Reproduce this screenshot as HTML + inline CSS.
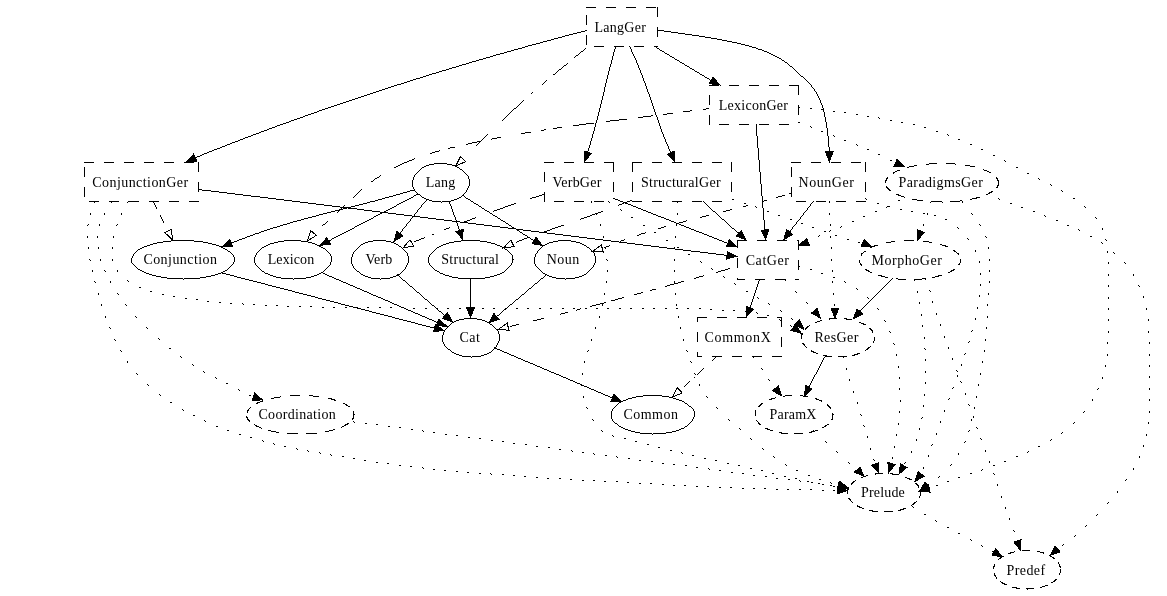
<!DOCTYPE html>
<html lang="en"><head><meta charset="utf-8"><title>LangGer module dependency graph</title>
<style>html,body{margin:0;padding:0;background:#fff}svg{display:block}</style></head>
<body>
<svg width="1167" height="596" viewBox="0 0 1167 596">
<rect width="1167" height="596" fill="#fff"/>
<g transform="translate(0,0.5)" fill="none" stroke="#000" stroke-width="1" shape-rendering="crispEdges">
<path d="M585 30h2M657 30h7M581 31h4M664 31h7M577 32h4M671 32h7M573 33h4M678 33h7M569 34h4M685 34h7M565 35h4M692 35h7M562 36h3M699 36h6M558 37h4M705 37h6M554 38h4M711 38h6M551 39h3M717 39h5M547 40h4M722 40h5M543 41h4M727 41h5M540 42h3M732 42h5M536 43h4M737 43h4M532 44h4M741 44h4M528 45h4M745 45h4M525 46h3M629 46h1M655 46h1M749 46h3M522 47h3M615 47h1M630 47h1M656 47h1M752 47h4M518 48h4M585 48h1M615 48h1M630 48h1M657 48h2M756 48h2M514 49h4M584 49h1M614 49h1M631 49h1M659 49h1M758 49h4M511 50h3M583 50h1M614 50h1M631 50h1M660 50h2M762 50h2M507 51h4M581 51h2M614 51h1M631 51h1M662 51h2M764 51h3M504 52h3M580 52h1M613 52h1M632 52h1M664 52h1M767 52h2M500 53h4M579 53h1M613 53h1M632 53h1M665 53h2M769 53h2M496 54h4M578 54h1M613 54h1M633 54h1M667 54h2M771 54h2M493 55h3M576 55h2M613 55h1M633 55h1M669 55h1M773 55h2M490 56h3M575 56h1M612 56h1M634 56h1M670 56h2M775 56h2M486 57h4M574 57h1M612 57h1M634 57h1M672 57h2M777 57h2M483 58h3M612 58h1M635 58h1M674 58h1M779 58h2M479 59h4M612 59h1M635 59h1M675 59h2M781 59h1M476 60h3M611 60h1M636 60h1M677 60h2M782 60h2M472 61h4M611 61h1M636 61h1M679 61h1M784 61h1M469 62h3M611 62h1M636 62h1M680 62h2M785 62h2M466 63h3M567 63h1M611 63h1M637 63h1M682 63h2M787 63h1M462 64h4M566 64h1M610 64h1M637 64h1M684 64h1M788 64h1M459 65h3M564 65h2M610 65h1M638 65h1M685 65h2M789 65h1M456 66h3M563 66h1M610 66h1M638 66h1M687 66h2M790 66h2M452 67h4M562 67h1M609 67h1M638 67h1M689 67h1M792 67h1M449 68h3M561 68h1M609 68h1M639 68h1M690 68h2M793 68h1M446 69h3M559 69h2M609 69h1M639 69h1M692 69h2M794 69h1M442 70h4M558 70h1M609 70h1M640 70h1M694 70h1M795 70h1M439 71h3M557 71h1M608 71h1M640 71h1M695 71h2M796 71h1M436 72h3M556 72h1M608 72h1M640 72h1M697 72h2M797 72h1M432 73h4M555 73h1M608 73h1M641 73h1M699 73h1M798 73h1M429 74h3M553 74h2M608 74h1M641 74h1M700 74h2M799 74h1M426 75h3M607 75h1M642 75h1M702 75h2M800 75h1M423 76h3M607 76h1M642 76h1M704 76h1M801 76h2M420 77h3M607 77h1M642 77h1M705 77h2M803 77h1M416 78h4M607 78h1M643 78h1M707 78h2M804 78h1M413 79h3M606 79h1M643 79h1M709 79h1M805 79h1M410 80h3M546 80h1M606 80h1M643 80h1M710 80h1M806 80h1M407 81h3M545 81h1M606 81h1M644 81h1M807 81h1M404 82h3M544 82h1M606 82h1M644 82h1M808 82h1M401 83h3M543 83h1M605 83h1M645 83h1M809 83h1M397 84h4M542 84h1M605 84h1M645 84h1M810 84h1M394 85h3M605 85h1M645 85h1M811 85h1M391 86h3M605 86h1M646 86h1M811 86h1M388 87h3M604 87h1M646 87h1M812 87h1M385 88h3M604 88h1M646 88h1M813 88h1M382 89h3M604 89h1M647 89h1M814 89h1M379 90h3M604 90h1M647 90h1M814 90h1M376 91h3M604 91h1M647 91h1M815 91h1M373 92h3M532 92h1M603 92h1M648 92h1M816 92h1M370 93h3M531 93h1M603 93h1M648 93h1M816 93h1M367 94h3M603 94h1M649 94h1M817 94h1M364 95h3M603 95h1M649 95h1M817 95h1M361 96h3M602 96h1M649 96h1M818 96h1M358 97h3M602 97h1M650 97h1M818 97h1M355 98h3M602 98h1M650 98h1M819 98h1M352 99h3M602 99h1M650 99h1M819 99h1M349 100h3M523 100h1M601 100h1M651 100h1M820 100h1M346 101h3M522 101h1M601 101h1M651 101h1M820 101h1M343 102h3M521 102h1M601 102h1M651 102h1M820 102h1M340 103h3M520 103h1M601 103h1M652 103h1M821 103h1M337 104h3M519 104h1M600 104h1M652 104h1M821 104h1M334 105h3M518 105h1M600 105h1M652 105h1M822 105h1M331 106h3M517 106h1M600 106h1M653 106h1M822 106h1M328 107h3M516 107h1M600 107h1M653 107h1M798 107h2M822 107h1M325 108h3M514 108h2M599 108h1M653 108h1M706 108h3M810 108h2M823 108h1M322 109h3M513 109h1M599 109h1M654 109h1M703 109h3M821 109h3M319 110h3M512 110h1M599 110h1M654 110h1M690 110h2M823 110h1M317 111h2M511 111h1M599 111h1M654 111h1M683 111h7M823 111h1M833 111h2M314 112h3M510 112h1M598 112h1M655 112h1M824 112h1M844 112h2M311 113h3M509 113h1M598 113h1M655 113h1M667 113h6M824 113h1M308 114h3M508 114h1M598 114h1M655 114h1M663 114h4M824 114h1M856 114h2M305 115h3M507 115h1M598 115h1"/>
<path d="M651 115h2M656 115h1M824 115h1M303 116h2M506 116h1M597 116h1M643 116h8M656 116h1M824 116h1M867 116h2M300 117h3M505 117h1M597 117h1M638 117h5M657 117h1M825 117h1M878 117h1M297 118h3M504 118h1M597 118h1M657 118h1M825 118h1M879 118h1M294 119h3M503 119h1M597 119h1M619 119h8M657 119h1M825 119h1M291 120h3M502 120h1M596 120h1M610 120h9M658 120h1M825 120h1M890 120h2M289 121h2M596 121h1M606 121h4M658 121h1M825 121h1M286 122h3M596 122h1M658 122h1M798 122h2M826 122h1M901 122h2M283 123h3M586 123h8M595 123h1M659 123h1M826 123h1M280 124h3M579 124h7M595 124h1M659 124h1M756 124h1M826 124h1M913 124h2M277 125h3M573 125h6M595 125h1M659 125h1M756 125h1M826 125h1M275 126h2M595 126h1M660 126h1M756 126h1M810 126h1M826 126h1M272 127h3M557 127h5M594 127h1M660 127h1M756 127h1M811 127h1M826 127h1M924 127h2M269 128h3M553 128h4M594 128h1M660 128h1M756 128h1M827 128h1M267 129h2M544 129h2M594 129h1M661 129h1M756 129h1M827 129h1M264 130h3M541 130h3M594 130h1M661 130h1M756 130h1M827 130h1M261 131h3M593 131h1M661 131h1M756 131h1M821 131h2M827 131h1M936 131h2M259 132h2M525 132h6M593 132h1M662 132h1M756 132h1M827 132h1M256 133h3M521 133h4M593 133h1M662 133h1M756 133h1M827 133h1M253 134h3M487 134h1M592 134h1M663 134h1M756 134h1M827 134h1M947 134h1M251 135h2M486 135h1M592 135h1M663 135h1M756 135h1M827 135h1M833 135h1M948 135h1M248 136h3M485 136h1M592 136h1M663 136h1M757 136h1M828 136h1M834 136h1M245 137h3M484 137h1M497 137h4M592 137h1M664 137h1M757 137h1M828 137h1M243 138h2M483 138h1M492 138h5M591 138h1M664 138h1M757 138h1M828 138h1M240 139h3M482 139h1M491 139h1M591 139h1M665 139h1M757 139h1M828 139h1M958 139h2M238 140h2M481 140h1M591 140h1M665 140h1M757 140h1M828 140h1M844 140h2M235 141h3M477 141h4M590 141h1M665 141h1M757 141h1M828 141h1M232 142h3M472 142h5M479 142h1M590 142h1M666 142h1M757 142h1M828 142h1M230 143h2M468 143h4M478 143h1M590 143h1M666 143h1M757 143h1M828 143h1M227 144h3M466 144h2M477 144h1M590 144h1M667 144h1M757 144h1M828 144h1M856 144h1M970 144h2M225 145h2M476 145h1M589 145h1M667 145h1M757 145h1M828 145h1M857 145h1M222 146h3M589 146h1M668 146h1M757 146h1M828 146h1M220 147h2M450 147h5M589 147h1M668 147h1M757 147h1M829 147h1M217 148h3M448 148h2M588 148h1M668 148h1M758 148h1M829 148h1M214 149h3M588 149h1M669 149h1M758 149h1M829 149h1M867 149h2M981 149h2M212 150h2M439 150h1M588 150h1M669 150h1M758 150h1M829 150h1M209 151h3M435 151h4M587 151h1M670 151h1M758 151h1M829 151h1M207 152h2M432 152h3M670 152h1M758 152h1M829 152h1M204 153h3M430 153h2M758 153h1M829 153h1M202 154h2M758 154h1M878 154h2M200 155h2M758 155h1M993 155h2M197 156h3M758 156h1M195 157h2M758 157h1M414 158h1M758 158h1M412 159h2M758 159h1M409 160h3M759 160h1M890 160h2M1004 160h1M407 161h2M759 161h1M1005 161h1M404 162h3M759 162h1M402 163h2M434 163h13M759 163h1M929 163h8M946 163h9M400 164h2M429 164h5M447 164h5M759 164h1M926 164h3M955 164h1M398 165h2M426 165h3M452 165h3M759 165h1M914 165h3M965 165h5M396 166h2M424 166h2M455 166h2M759 166h1M909 166h5M970 166h5M394 167h2M422 167h2M457 167h2M759 167h1M907 167h2M1016 167h2M421 168h1M459 168h1M759 168h1M420 169h1M460 169h2M759 169h1M983 169h1M419 170h1M462 170h1M759 170h1M897 170h3M984 170h3M418 171h1M463 171h1M759 171h1M895 171h2M987 171h2M417 172h1M464 172h1M760 172h1M893 172h2M989 172h2M416 173h1M465 173h1M760 173h1M893 173h1M1027 173h2M415 174h1M466 174h1M760 174h1M380 175h1M414 175h1M467 175h1M760 175h1M379 176h1M414 176h1M468 176h1M760 176h1M377 177h2M413 177h1M468 177h1M760 177h1M887 177h1M996 177h1M375 178h2M413 178h1M468 178h1M760 178h1M886 178h2M996 178h2M1038 178h1M374 179h1M413 179h1M469 179h1M760 179h1M886 179h1M997 179h1M1039 179h1M373 180h1M412 180h1M469 180h1M760 180h1M885 180h2M997 180h2M371 181h2M412 181h1M469 181h1M760 181h1M885 181h1M998 181h1M412 182h1M469 182h1M760 182h1M885 182h1M998 182h1M412 183h1M469 183h1M760 183h1M998 183h1M412 184h1M469 184h1M761 184h1M998 184h1M1050 184h1M412 185h1M469 185h1M761 185h1M997 185h2M1051 185h1M412 186h1M468 186h1M761 186h1M886 186h1M997 186h1M413 187h1M468 187h1M761 187h1M886 187h2M996 187h2M413 188h1"/>
<path d="M467 188h1M761 188h1M887 188h2M198 189h4M361 189h1M414 189h1M467 189h1M761 189h1M888 189h2M202 190h9M360 190h1M410 190h5M466 190h1M761 190h1M889 190h2M1061 190h1M211 191h8M359 191h1M407 191h3M415 191h1M466 191h1M761 191h1M991 191h2M1062 191h1M219 192h8M358 192h1M403 192h4M416 192h1M465 192h1M761 192h1M989 192h3M227 193h8M357 193h1M400 193h3M417 193h1M464 193h1M761 193h1M789 193h2M988 193h2M235 194h8M356 194h1M396 194h4M416 194h4M463 194h1M542 194h2M761 194h1M896 194h3M986 194h2M243 195h8M355 195h1M393 195h3M414 195h2M420 195h1M462 195h2M539 195h3M761 195h1M782 195h3M898 195h3M251 196h9M354 196h1M389 196h4M413 196h1M421 196h1M461 196h1M464 196h1M536 196h3M762 196h1M778 196h4M901 196h3M260 197h8M353 197h1M385 197h4M411 197h2M422 197h2M459 197h2M465 197h1M532 197h4M762 197h1M776 197h2M904 197h1M976 197h4M268 198h8M382 198h3M409 198h2M424 198h2M457 198h2M466 198h2M530 198h2M613 198h2M762 198h1M865 198h1M972 198h5M998 198h1M1073 198h2M276 199h8M378 199h4M407 199h2M426 199h3M454 199h3M468 199h2M615 199h3M732 199h2M762 199h1M866 199h1M912 199h5M970 199h2M999 199h1M284 200h8M375 200h3M405 200h2M426 200h1M429 200h3M451 200h3M470 200h1M618 200h2M630 200h2M762 200h1M764 200h3M898 200h2M917 200h6M960 200h2M95 201h1M112 201h1M128 201h1M152 201h1M292 201h8M370 201h5M403 201h2M425 201h1M432 201h9M442 201h9M471 201h2M591 201h1M608 201h1M620 201h3M627 201h3M677 201h1M703 201h1M762 201h2M813 201h1M829 201h1M931 201h11M950 201h10M962 201h1M94 202h1M111 202h1M127 202h1M153 202h1M300 202h8M367 202h3M401 202h2M424 202h1M441 202h1M449 202h1M473 202h1M591 202h1M609 202h1M623 202h4M677 202h1M704 202h1M762 202h1M812 202h1M829 202h1M930 202h1M942 202h1M962 202h1M154 203h1M308 203h8M363 203h4M399 203h2M423 203h1M449 203h1M474 203h2M514 203h2M622 203h2M625 203h3M705 203h1M744 203h2M762 203h1M811 203h1M877 203h2M1010 203h2M154 204h1M316 204h8M359 204h4M397 204h2M422 204h1M450 204h1M476 204h2M511 204h3M619 204h3M628 204h3M706 204h1M762 204h1M810 204h1M155 205h1M324 205h8M344 205h1M355 205h4M396 205h1M421 205h1M450 205h1M478 205h1M508 205h3M618 205h1M631 205h2M707 205h1M746 205h2M762 205h1M810 205h1M155 206h1M332 206h8M343 206h1M351 206h4M394 206h2M421 206h1M451 206h1M479 206h2M505 206h3M633 206h3M708 206h1M743 206h3M755 206h1M762 206h1M809 206h1M887 206h3M1084 206h1M156 207h1M340 207h11M392 207h2M420 207h1M451 207h1M481 207h1M503 207h2M636 207h2M709 207h1M756 207h1M762 207h1M808 207h1M886 207h1M1021 207h2M1085 207h1M156 208h1M341 208h1M343 208h4M348 208h9M390 208h2M419 208h1M451 208h1M482 208h2M500 208h3M638 208h3M710 208h1M763 208h1M807 208h1M339 209h4M357 209h7M388 209h2M418 209h1M452 209h1M484 209h1M497 209h3M620 209h1M641 209h2M711 209h1M730 209h2M763 209h1M807 209h1M900 209h2M335 210h5M364 210h8M386 210h2M417 210h1M452 210h1M485 210h2M494 210h3M621 210h1M643 210h3M712 210h1M726 210h4M763 210h1M806 210h1M331 211h4M338 211h1M372 211h8M384 211h2M417 211h1M452 211h1M487 211h2M493 211h1M601 211h2M646 211h2M713 211h2M723 211h3M763 211h1M767 211h2M805 211h1M875 211h2M911 211h2M1033 211h2M327 212h4M337 212h1M380 212h8M416 212h1M453 212h1M489 212h1M598 212h3M648 212h3M715 212h1M763 212h1M804 212h1M90 213h1M104 213h1M121 213h1M323 213h4M380 213h2M388 213h8M415 213h1M453 213h1M490 213h2M595 213h3M651 213h2M677 213h1M716 213h1M763 213h1M803 213h1M829 213h1M923 213h2M927 213h1M971 213h1M90 214h1M104 214h1M121 214h1M319 214h4M378 214h2M396 214h8M414 214h1M453 214h1M492 214h1M592 214h3M596 214h1M653 214h3M677 214h1M717 214h1M763 214h1M803 214h1M829 214h1M927 214h1M972 214h1M160 215h1M316 215h3M376 215h2M404 215h8M414 215h1M454 215h1M493 215h2M590 215h2M656 215h2M706 215h3M718 215h1M763 215h1M778 215h2M802 215h1M934 215h2M1044 215h1M160 216h1M312 216h4M374 216h2M412 216h8M454 216h1M495 216h2M587 216h3M658 216h3M702 216h4M719 216h1M763 216h1M801 216h1M863 216h2M1045 216h1M161 217h1M308 217h4M373 217h1M412 217h1M420 217h8M455 217h1M475 217h1M497 217h1M584 217h3M631 217h2M661 217h3M700 217h2M720 217h1M763 217h1M800 217h1M1095 217h1M161 218h1M304 218h4M371 218h2M411 218h1M428 218h8"/>
<path d="M455 218h1M472 218h3M498 218h2M581 218h3M664 218h2M721 218h1M763 218h1M800 218h1M1096 218h1M162 219h1M301 219h3M369 219h2M410 219h1M436 219h8M455 219h1M470 219h2M500 219h1M580 219h1M666 219h3M722 219h2M763 219h1M790 219h2M799 219h1M945 219h2M162 220h1M297 220h4M367 220h2M410 220h1M444 220h8M456 220h1M467 220h3M501 220h2M669 220h2M686 220h1M724 220h1M764 220h1M798 220h1M1056 220h2M163 221h1M293 221h4M327 221h1M365 221h2M409 221h1M452 221h8M464 221h3M503 221h2M671 221h3M683 221h3M725 221h1M764 221h1M797 221h1M852 221h2M163 222h1M290 222h3M326 222h1M363 222h2M408 222h1M456 222h1M460 222h8M505 222h1M674 222h2M679 222h4M726 222h1M764 222h1M796 222h1M287 223h3M325 223h1M361 223h2M407 223h1M457 223h1M468 223h8M506 223h2M676 223h3M727 223h1M764 223h1M796 223h1M801 223h2M88 224h1M99 224h1M117 224h1M283 224h4M323 224h2M359 224h2M406 224h1M457 224h1M476 224h8M508 224h1M600 224h1M676 224h1M679 224h2M728 224h1M764 224h1M795 224h1M830 224h1M923 224h1M979 224h1M87 225h1M99 225h1M116 225h1M280 225h3M322 225h1M357 225h2M406 225h1M457 225h1M484 225h8M509 225h2M561 225h3M600 225h1M643 225h2M676 225h1M681 225h3M729 225h1M764 225h1M794 225h1M830 225h1M923 225h1M980 225h1M1067 225h2M277 226h3M355 226h2M405 226h1M458 226h1M492 226h8M511 226h1M558 226h3M664 226h2M684 226h2M730 226h1M764 226h1M793 226h1M841 226h1M273 227h4M354 227h1M404 227h1M449 227h1M458 227h1M500 227h8M512 227h2M555 227h3M661 227h3M686 227h3M731 227h1M764 227h1M792 227h1M812 227h2M840 227h1M957 227h1M270 228h3M352 228h2M403 228h1M446 228h3M458 228h1M508 228h8M552 228h3M658 228h3M689 228h2M732 228h2M764 228h1M792 228h1M958 228h1M1102 228h1M267 229h3M350 229h2M402 229h1M444 229h2M459 229h1M516 229h7M550 229h2M691 229h3M734 229h1M764 229h1M791 229h1M1078 229h1M1102 229h1M264 230h3M348 230h2M402 230h1M459 230h1M517 230h2M523 230h8M547 230h3M694 230h2M735 230h1M790 230h1M830 230h1M1079 230h1M261 231h3M346 231h2M401 231h1M519 231h1M531 231h8M544 231h3M696 231h3M736 231h1M790 231h1M824 231h2M829 231h1M259 232h2M344 232h2M400 232h1M520 232h2M539 232h8M645 232h1M654 232h2M699 232h3M737 232h2M255 233h4M342 233h2M400 233h1M522 233h1M547 233h8M641 233h4M702 233h2M253 234h2M340 234h2M432 234h2M523 234h2M555 234h8M639 234h2M704 234h3M250 235h3M338 235h2M525 235h2M563 235h8M637 235h2M707 235h2M819 235h1M835 235h2M87 236h1M97 236h1M113 236h1M247 236h3M336 236h2M527 236h1M571 236h8M603 236h1M675 236h1M709 236h3M818 236h1M830 236h1M985 236h1M1090 236h2M87 237h1M97 237h1M113 237h1M245 237h2M334 237h2M424 237h1M527 237h3M579 237h8M603 237h1M675 237h1M712 237h2M830 237h1M986 237h1M242 238h3M332 238h2M421 238h3M524 238h3M530 238h1M587 238h8M714 238h3M967 238h1M239 239h3M331 239h1M419 239h2M522 239h2M531 239h2M595 239h8M624 239h1M717 239h2M847 239h2M968 239h1M1105 239h1M171 240h23M237 240h2M284 240h17M329 240h2M373 240h13M416 240h3M461 240h19M519 240h3M533 240h1M558 240h13M603 240h8M621 240h3M666 240h2M719 240h3M904 240h10M1106 240h1M163 241h8M194 241h9M234 241h3M278 241h6M301 241h7M368 241h5M386 241h5M414 241h2M454 241h7M480 241h7M517 241h2M553 241h5M571 241h5M611 241h8M620 241h1M722 241h2M891 241h4M923 241h6M157 242h6M203 242h5M231 242h3M274 242h4M308 242h4M365 242h3M391 242h3M449 242h5M487 242h4M516 242h1M549 242h4M576 242h4M619 242h8M724 242h3M858 242h2M886 242h5M929 242h3M1101 242h1M153 243h4M208 243h4M270 243h4M312 243h3M363 243h2M394 243h2M446 243h3M491 243h4M547 243h2M580 243h2M627 243h8M727 243h1M1102 243h1M150 244h3M212 244h4M268 244h2M315 244h2M361 244h2M396 244h2M443 244h3M495 244h2M545 244h2M582 244h2M635 244h8M940 244h2M147 245h3M216 245h3M266 245h2M317 245h2M360 245h1M398 245h1M441 245h2M497 245h3M543 245h2M584 245h2M609 245h1M643 245h8M874 245h4M942 245h4M144 246h3M219 246h2M264 246h2M319 246h2M359 246h1M399 246h2M439 246h2M500 246h2M542 246h1M586 246h1M606 246h3M651 246h8M872 246h3M945 246h3M88 247h1M98 247h1M112 247h1M142 247h2M221 247h2M262 247h2M321 247h2M358 247h1M401 247h1M437 247h2M502 247h2M541 247h1M587 247h2M604 247h2M659 247h8M674 247h1M677 247h2M831 247h1M870 247h2M988 247h1M88 248h1"/>
<path d="M98 248h1M112 248h1M140 248h2M223 248h2M261 248h1M323 248h2M357 248h1M402 248h1M436 248h1M504 248h1M540 248h1M589 248h1M605 248h1M667 248h8M831 248h1M988 248h1M138 249h2M225 249h2M260 249h1M325 249h1M356 249h1M403 249h1M435 249h1M505 249h2M539 249h1M590 249h1M675 249h8M137 250h1M227 250h1M259 250h1M326 250h1M355 250h1M404 250h1M434 250h1M507 250h1M538 250h1M591 250h1M683 250h8M953 250h2M975 250h1M136 251h1M228 251h2M258 251h1M327 251h1M354 251h1M405 251h1M433 251h1M508 251h1M537 251h1M592 251h1M691 251h9M864 251h2M954 251h2M975 251h1M1107 251h1M135 252h1M230 252h1M257 252h1M328 252h1M353 252h1M406 252h1M432 252h1M509 252h1M537 252h1M593 252h1M700 252h8M863 252h1M956 252h1M1107 252h1M1113 252h1M134 253h1M231 253h1M256 253h1M329 253h1M353 253h1M407 253h1M431 253h1M510 253h1M536 253h1M594 253h1M708 253h8M861 253h2M957 253h2M1114 253h1M133 254h1M232 254h1M256 254h1M330 254h1M352 254h1M407 254h1M430 254h1M511 254h1M535 254h1M594 254h1M688 254h2M716 254h8M861 254h1M958 254h1M133 255h1M233 255h1M255 255h1M330 255h1M352 255h1M407 255h1M429 255h1M512 255h1M535 255h1M594 255h1M724 255h3M861 255h1M132 256h1M233 256h1M255 256h1M331 256h1M352 256h1M408 256h1M429 256h1M512 256h1M535 256h1M595 256h1M132 257h1M234 257h1M254 257h1M331 257h1M351 257h1M408 257h1M428 257h1M512 257h1M534 257h1M595 257h1M131 258h1M234 258h1M254 258h1M331 258h1M351 258h1M408 258h1M428 258h1M512 258h1M534 258h1M595 258h1M89 259h1M100 259h1M112 259h1M131 259h1M234 259h1M254 259h1M331 259h1M351 259h1M408 259h1M428 259h1M512 259h2M534 259h1M595 259h1M606 259h1M674 259h1M831 259h1M960 259h1M989 259h1M90 260h1M100 260h1M112 260h1M131 260h1M234 260h1M254 260h1M331 260h1M351 260h1M408 260h1M428 260h1M512 260h1M534 260h1M595 260h1M607 260h1M674 260h1M831 260h1M859 260h1M960 260h1M989 260h1M131 261h1M234 261h1M254 261h1M331 261h1M351 261h1M408 261h1M428 261h1M512 261h1M534 261h1M595 261h1M700 261h1M859 261h1M960 261h1M979 261h1M131 262h1M233 262h1M254 262h1M330 262h1M351 262h1M408 262h1M428 262h1M512 262h1M534 262h1M595 262h1M701 262h1M859 262h1M960 262h1M979 262h1M1108 262h1M1124 262h1M132 263h1M233 263h1M255 263h1M330 263h1M351 263h1M407 263h1M429 263h1M511 263h1M534 263h1M594 263h1M860 263h1M959 263h1M1108 263h1M1125 263h1M133 264h1M232 264h1M255 264h1M330 264h1M352 264h1M407 264h1M429 264h1M511 264h1M535 264h1M594 264h1M860 264h2M958 264h2M134 265h1M231 265h1M256 265h1M329 265h1M352 265h1M406 265h1M430 265h1M510 265h1M535 265h1M593 265h1M861 265h1M135 266h1M230 266h1M257 266h1M328 266h1M353 266h1M406 266h1M431 266h1M509 266h1M536 266h1M593 266h1M798 266h2M136 267h1M229 267h1M258 267h1M327 267h1M353 267h1M405 267h1M432 267h1M508 267h1M537 267h1M592 267h1M137 268h1M228 268h1M259 268h1M326 268h1M354 268h1M405 268h1M433 268h1M507 268h1M538 268h1M591 268h1M711 268h1M728 268h2M138 269h2M227 269h1M260 269h1M325 269h1M355 269h1M404 269h1M434 269h1M506 269h1M539 269h1M590 269h1M712 269h1M725 269h3M810 269h2M865 269h2M953 269h2M92 270h1M104 270h1M117 270h1M140 270h2M225 270h2M261 270h1M324 270h1M356 270h1M403 270h1M435 270h2M505 270h1M540 270h1M589 270h1M607 270h1M674 270h1M721 270h4M832 270h1M866 270h3M951 270h3M989 270h1M92 271h1M105 271h1M117 271h1M142 271h2M223 271h2M262 271h2M323 271h1M357 271h2M402 271h1M437 271h2M504 271h1M541 271h1M588 271h1M607 271h1M674 271h1M718 271h3M832 271h1M868 271h2M950 271h2M989 271h1M144 272h2M221 272h2M264 272h1M321 272h2M359 272h1M401 272h1M439 272h1M502 272h2M542 272h1M587 272h1M716 272h2M870 272h2M948 272h2M146 273h3M218 273h3M222 273h4M265 273h3M319 273h2M323 273h2M360 273h1M400 273h1M440 273h3M500 273h2M543 273h2M586 273h1M821 273h2M980 273h1M149 274h3M215 274h3M226 274h4M268 274h2M317 274h2M325 274h2M361 274h2M397 274h3M443 274h2M497 274h3M545 274h2M584 274h2M980 274h1M1108 274h1M1133 274h1M152 275h4M211 275h4M230 275h4M270 275h3M314 275h3M327 275h2M363 275h2M396 275h3M445 275h4M494 275h3M545 275h1M547 275h2M582 275h2M703 275h1M878 275h4M938 275h4M1108 275h1M1133 275h1M156 276h5M206 276h5M234 276h3M273 276h3M311 276h3M329 276h3M365 276h3M393 276h3"/>
<path d="M399 276h1M449 276h3M490 276h4M544 276h1M549 276h3M579 276h3M699 276h4M723 276h1M881 276h4M935 276h4M161 277h6M200 277h6M237 277h4M276 277h5M306 277h5M332 277h2M368 277h3M390 277h3M400 277h1M452 277h6M485 277h5M543 277h1M552 277h4M575 277h4M696 277h3M724 277h1M833 277h2M885 277h3M932 277h3M167 278h16M184 278h16M241 278h4M281 278h12M294 278h12M334 278h2M371 278h9M381 278h9M401 278h1M458 278h27M541 278h2M556 278h9M566 278h9M694 278h2M892 278h1M896 278h2M922 278h4M183 279h1M245 279h4M293 279h1M336 279h3M380 279h1M402 279h1M470 279h1M540 279h1M565 279h1M759 279h1M785 279h1M891 279h1M898 279h8M914 279h8M925 279h1M127 280h1M249 280h4M339 280h2M403 280h2M470 280h1M539 280h1M759 280h1M785 280h1M890 280h1M914 280h1M94 281h1M110 281h1M128 281h1M253 281h4M341 281h2M405 281h1M470 281h1M538 281h1M606 281h1M674 281h1M681 281h3M758 281h1M832 281h1M844 281h1M889 281h1M989 281h1M95 282h1M110 282h1M257 282h4M343 282h3M406 282h1M470 282h1M537 282h1M606 282h1M674 282h1M678 282h3M758 282h1M832 282h1M845 282h1M888 282h1M989 282h1M261 283h4M346 283h2M407 283h1M470 283h1M535 283h2M674 283h4M734 283h1M758 283h1M887 283h1M265 284h3M348 284h2M408 284h1M470 284h1M534 284h1M670 284h4M735 284h1M757 284h1M886 284h1M980 284h1M268 285h4M350 285h3M409 285h1M470 285h1M533 285h1M667 285h3M757 285h1M885 285h1M980 285h1M1108 285h1M1138 285h1M272 286h4M353 286h2M410 286h2M470 286h1M532 286h1M665 286h2M757 286h1M884 286h1M1108 286h1M1139 286h1M139 287h2M276 287h4M355 287h2M412 287h1M470 287h1M531 287h1M756 287h1M883 287h1M280 288h4M357 288h3M413 288h1M470 288h1M529 288h2M756 288h1M856 288h1M882 288h1M284 289h4M360 289h2M414 289h1M470 289h1M528 289h1M652 289h4M756 289h1M857 289h1M881 289h1M288 290h4M362 290h2M415 290h1M470 290h1M527 290h1M650 290h2M755 290h1M880 290h1M929 290h1M150 291h2M292 291h3M364 291h3M416 291h1M470 291h1M526 291h1M746 291h2M755 291h1M795 291h1M879 291h1M917 291h1M930 291h1M295 292h4M367 292h2M417 292h2M470 292h1M525 292h1M641 292h2M755 292h1M796 292h1M878 292h1M917 292h1M98 293h1M117 293h1M299 293h4M369 293h2M419 293h1M470 293h1M524 293h1M604 293h1M637 293h4M675 293h1M754 293h1M833 293h1M877 293h1M988 293h1M98 294h1M118 294h1M162 294h2M303 294h4M371 294h2M420 294h1M470 294h1M522 294h2M604 294h1M634 294h3M675 294h1M754 294h1M833 294h1M876 294h1M988 294h1M307 295h4M373 295h3M421 295h1M470 295h1M521 295h1M754 295h1M875 295h1M979 295h1M173 296h2M311 296h4M376 296h2M422 296h1M470 296h1M520 296h1M753 296h1M874 296h1M979 296h1M1143 296h1M315 297h3M378 297h3M423 297h1M470 297h1M519 297h1M622 297h2M753 297h1M757 297h1M867 297h1M873 297h1M1108 297h1M1143 297h1M185 298h2M318 298h4M381 298h2M424 298h1M470 298h1M518 298h1M618 298h4M753 298h1M758 298h1M868 298h1M872 298h1M1108 298h1M196 299h2M322 299h4M383 299h2M425 299h2M470 299h1M516 299h2M615 299h3M752 299h1M871 299h1M326 300h4M385 300h3M427 300h1M470 300h1M515 300h1M611 300h4M752 300h1M870 300h1M207 301h2M330 301h4M388 301h2M428 301h1M470 301h1M514 301h1M752 301h1M869 301h1M932 301h1M219 302h2M334 302h4M390 302h2M429 302h1M470 302h1M513 302h1M604 302h2M751 302h1M806 302h1M868 302h1M919 302h1M932 302h1M230 303h2M242 303h1M338 303h3M392 303h2M430 303h1M470 303h1M512 303h1M600 303h4M751 303h1M768 303h1M807 303h1M867 303h1M919 303h1M101 304h1M125 304h1M243 304h1M253 304h2M341 304h4M394 304h3M431 304h1M470 304h1M510 304h2M596 304h4M602 304h1M676 304h1M751 304h1M769 304h1M834 304h1M866 304h1M987 304h1M101 305h1M126 305h1M265 305h2M276 305h2M345 305h4M397 305h2M432 305h2M470 305h1M509 305h1M592 305h4M602 305h1M676 305h1M750 305h1M834 305h1M865 305h1M987 305h1M287 306h2M299 306h2M310 306h2M349 306h4M399 306h2M434 306h1M470 306h1M508 306h1M590 306h2M750 306h1M864 306h1M322 307h2M333 307h2M345 307h2M353 307h5M367 307h2M379 307h2M390 307h2M401 307h3M435 307h1M470 307h1M507 307h1M750 307h1M863 307h1M977 307h1M357 308h4M404 308h2M413 308h2M425 308h2M436 308h2M447 308h2M459 308h2M470 308h2M482 308h2M493 308h2M505 308h2M516 308h2M527 308h2M539 308h2M550 308h2M562 308h2M573 308h2M580 308h1M585 308h2M596 308h2M607 308h2M619 308h2"/>
<path d="M630 308h2M642 308h2M653 308h2M665 308h2M676 308h2M687 308h2M699 308h2M862 308h1M877 308h1M977 308h1M1108 308h1M1146 308h1M361 309h4M406 309h2M437 309h1M504 309h2M577 309h3M710 309h2M861 309h1M878 309h1M1108 309h1M1146 309h1M365 310h4M408 310h3M438 310h1M503 310h1M576 310h1M722 310h2M733 310h2M780 310h1M860 310h1M369 311h3M411 311h2M439 311h2M502 311h1M745 311h2M781 311h1M860 311h1M372 312h4M413 312h2M441 312h1M501 312h1M565 312h3M756 312h1M376 313h4M415 313h3M442 313h1M500 313h1M561 313h4M757 313h1M936 313h1M380 314h4M418 314h2M443 314h1M499 314h1M560 314h1M921 314h1M936 314h1M384 315h4M420 315h2M444 315h1M497 315h2M767 315h2M921 315h1M105 316h1M135 316h1M388 316h4M422 316h3M496 316h1M599 316h1M678 316h1M987 316h1M105 317h1M136 317h1M392 317h3M425 317h2M599 317h1M678 317h1M987 317h1M395 318h4M427 318h2M464 318h13M541 318h3M791 318h1M829 318h8M844 318h3M975 318h1M399 319h4M429 319h3M459 319h5M477 319h5M537 319h4M779 319h1M792 319h1M829 319h1M846 319h6M975 319h1M1108 319h1M1148 319h1M403 320h4M432 320h2M456 320h3M482 320h3M533 320h4M780 320h1M820 320h2M884 320h1M1108 320h1M1148 320h1M407 321h4M434 321h2M454 321h2M485 321h2M817 321h3M885 321h1M411 322h4M436 322h2M452 322h2M487 322h2M815 322h2M859 322h2M415 323h3M451 323h1M489 323h1M861 323h3M418 324h4M450 324h1M490 324h2M516 324h3M863 324h3M940 324h1M422 325h4M449 325h1M492 325h1M512 325h4M790 325h1M809 325h1M922 325h1M940 325h1M426 326h4M448 326h1M493 326h1M510 326h2M791 326h1M807 326h2M922 326h1M109 327h1M146 327h1M430 327h5M447 327h1M494 327h1M595 327h1M680 327h1M806 327h2M986 327h1M110 328h1M147 328h1M446 328h1M495 328h1M595 328h1M680 328h1M805 328h2M869 328h2M986 328h1M445 329h1M496 329h1M805 329h1M870 329h2M444 330h1M497 330h1M871 330h2M972 330h1M444 331h1M498 331h1M872 331h1M889 331h1M971 331h1M1108 331h1M1148 331h1M443 332h1M498 332h1M872 332h1M890 332h1M1108 332h1M1148 332h1M443 333h1M498 333h1M802 333h1M443 334h1M499 334h1M801 334h2M442 335h1M499 335h1M801 335h1M442 336h1M499 336h1M801 336h1M944 336h1M442 337h1M499 337h1M801 337h1M874 337h1M924 337h1M944 337h1M158 338h1M442 338h1M499 338h1M801 338h1M874 338h1M924 338h1M114 339h1M159 339h1M442 339h1M499 339h1M591 339h1M683 339h1M874 339h1M985 339h1M115 340h1M442 340h1M499 340h1M591 340h1M683 340h1M874 340h1M985 340h1M442 341h1M498 341h1M873 341h1M969 341h1M443 342h1M498 342h1M873 342h1M968 342h1M1107 342h1M1149 342h1M443 343h1M497 343h1M802 343h2M893 343h1M1107 343h1M1149 343h1M444 344h1M497 344h1M803 344h2M894 344h1M444 345h1M496 345h1M804 345h1M445 346h1M496 346h1M805 346h1M870 346h1M446 347h1M494 347h2M806 347h1M868 347h2M948 347h1M169 348h2M447 348h1M494 348h3M867 348h2M924 348h1M948 348h1M448 349h2M493 349h1M497 349h3M866 349h2M925 349h1M120 350h1M450 350h1M492 350h1M500 350h2M588 350h1M686 350h1M811 350h1M865 350h1M984 350h1M121 351h1M451 351h1M491 351h1M502 351h2M587 351h1M687 351h1M811 351h3M984 351h1M452 352h2M489 352h2M504 352h3M813 352h3M454 353h2M487 353h2M507 353h2M816 353h2M857 353h3M965 353h1M456 354h3M484 354h3M509 354h2M854 354h4M896 354h1M964 354h1M1107 354h1M1149 354h1M459 355h3M481 355h3M511 355h3M823 355h4M852 355h3M896 355h1M1107 355h1M1149 355h1M180 356h1M462 356h9M472 356h9M514 356h2M716 356h1M752 356h1M825 356h7M838 356h9M181 357h1M471 357h1M516 357h2M715 357h1M753 357h1M824 357h1M843 357h1M518 358h3M714 358h1M823 358h1M952 358h1M521 359h2M713 359h1M823 359h1M925 359h1M952 359h1M523 360h2M712 360h1M822 360h1M925 360h1M127 361h1M525 361h3M584 361h1M690 361h1M822 361h1M982 361h1M127 362h1M528 362h2M584 362h1M691 362h1M821 362h1M982 362h1M530 363h3M821 363h1M192 364h1M533 364h2M820 364h1M961 364h1M193 365h1M535 365h2M820 365h1M961 365h1M1105 365h1M1149 365h1M537 366h3M819 366h1M898 366h1M1105 366h1M1149 366h1M540 367h2M819 367h1M898 367h1M542 368h2M703 368h1M761 368h1M818 368h1M846 368h1M544 369h3M702 369h1M762 369h1M818 369h1M846 369h1M547 370h2M701 370h1M817 370h1M956 370h1M203 371h1M549 371h2M700 371h1M817 371h1M925 371h1M957 371h1M204 372h1M551 372h3M699 372h1M816 372h1M925 372h1M136 373h1M554 373h2M582 373h1M694 373h1"/>
<path d="M698 373h1M816 373h1M980 373h1M137 374h1M556 374h3M582 374h1M695 374h1M697 374h1M815 374h1M980 374h1M559 375h2M814 375h1M957 375h1M561 376h2M814 376h1M957 376h1M1149 376h1M215 377h1M563 377h3M694 377h1M813 377h1M899 377h1M1102 377h1M1149 377h1M216 378h1M566 378h2M813 378h1M899 378h1M1102 378h1M568 379h2M768 379h1M812 379h1M849 379h1M570 380h3M769 380h1M812 380h1M849 380h1M573 381h2M689 381h1M811 381h1M960 381h1M575 382h2M688 382h1M811 382h1M925 382h1M961 382h1M226 383h2M577 383h3M687 383h1M810 383h1M925 383h1M147 384h1M580 384h2M686 384h1M699 384h1M810 384h1M978 384h1M148 385h1M581 385h3M685 385h1M699 385h1M809 385h1M978 385h1M584 386h3M684 386h1M809 386h1M587 387h2M953 387h1M589 388h2M899 388h1M952 388h1M1098 388h1M1149 388h1M238 389h1M591 389h3M899 389h1M1097 389h1M1149 389h1M239 390h1M594 390h2M596 391h2M853 391h1M598 392h3M853 392h1M601 393h2M965 393h1M159 394h1M603 394h2M924 394h1M965 394h1M160 395h1M249 395h2M290 395h10M309 395h4M605 395h3M643 395h19M785 395h7M800 395h3M924 395h1M280 396h1M313 396h6M583 396h1M608 396h2M636 396h7M662 396h7M706 396h1M783 396h2M803 396h5M976 396h1M274 397h6M583 397h1M610 397h3M632 397h4M669 397h4M707 397h1M775 397h1M976 397h1M271 398h3M328 398h4M628 398h4M673 398h3M771 398h4M815 398h2M949 398h1M331 399h4M626 399h2M676 399h3M769 399h3M816 399h3M948 399h1M1092 399h1M1149 399h1M262 400h1M334 400h2M623 400h3M679 400h3M819 400h3M900 400h1M1092 400h1M1149 400h1M260 401h3M621 401h2M682 401h2M821 401h1M900 401h1M170 402h2M257 402h3M619 402h2M684 402h1M857 402h1M256 403h2M343 403h2M618 403h1M685 403h2M761 403h2M857 403h1M345 404h2M617 404h1M687 404h1M760 404h2M827 404h1M968 404h1M346 405h2M616 405h1M688 405h1M759 405h2M827 405h2M923 405h1M969 405h1M348 406h2M615 406h1M689 406h2M758 406h2M828 406h2M923 406h1M250 407h1M586 407h1M614 407h1M691 407h1M716 407h1M829 407h2M974 407h1M249 408h1M587 408h1M613 408h1M692 408h1M717 408h1M830 408h1M974 408h1M182 409h1M248 409h1M612 409h1M693 409h1M183 410h1M247 410h2M612 410h1M693 410h1M755 410h1M944 410h1M247 411h1M353 411h1M611 411h1M694 411h1M755 411h1M899 411h1M944 411h1M1084 411h1M1149 411h1M247 412h1M353 412h1M611 412h1M694 412h1M755 412h1M899 412h1M1083 412h1M1149 412h1M353 413h1M611 413h1M694 413h1M755 413h1M832 413h1M353 414h2M611 414h1M694 414h1M755 414h1M832 414h2M860 414h1M193 415h2M353 415h1M611 415h1M694 415h1M755 415h1M832 415h1M861 415h1M246 416h1M353 416h1M611 416h1M694 416h1M832 416h1M973 416h1M246 417h2M353 417h1M611 417h1M693 417h1M832 417h1M922 417h1M973 417h1M247 418h1M352 418h2M611 418h1M693 418h1M832 418h1M921 418h1M247 419h2M352 419h1M592 419h1M612 419h1M692 419h1M728 419h1M831 419h2M971 419h1M204 420h1M248 420h2M593 420h1M612 420h1M692 420h1M729 420h1M756 420h1M971 420h1M205 421h1M249 421h1M353 421h1M613 421h1M691 421h1M757 421h1M940 421h1M354 422h1M614 422h1M690 422h1M758 422h1M940 422h1M1074 422h1M1148 422h1M347 423h2M365 423h2M615 423h2M689 423h1M758 423h2M898 423h1M1073 423h1M1148 423h1M254 424h1M345 424h3M376 424h2M617 424h1M688 424h1M759 424h2M827 424h2M898 424h1M255 425h2M344 425h2M618 425h1M687 425h1M825 425h2M863 425h1M216 426h2M256 426h3M342 426h2M388 426h2M619 426h2M685 426h2M824 426h2M864 426h1M259 427h2M341 427h1M399 427h2M621 427h2M684 427h1M822 427h2M976 427h1M261 428h1M623 428h2M681 428h3M739 428h1M765 428h3M919 428h1M977 428h1M333 429h2M411 429h2M625 429h3M679 429h2M740 429h1M767 429h3M919 429h1M227 430h2M268 430h3M329 430h4M422 430h1M601 430h1M628 430h3M676 430h3M770 430h3M813 430h1M815 430h3M969 430h1M271 431h5M325 431h4M423 431h1M602 431h1M631 431h4M672 431h4M811 431h4M968 431h1M276 432h3M433 432h2M635 432h5M666 432h6M779 432h3M809 432h3M1062 432h1M287 433h11M306 433h11M640 433h12M653 433h13M781 433h7M794 433h9M936 433h1M1061 433h1M239 434h2M445 434h2M652 434h1M896 434h1M936 434h1M1146 434h1M456 435h2M612 435h1M896 435h1M1146 435h1M613 436h1M867 436h1M250 437h2M468 437h2M867 437h1M479 438h2M624 438h2M750 438h1M980 438h1M751 439h1M916 439h1M981 439h1M1051 439h1M262 440h1M491 440h2M916 440h1M1050 440h1M263 441h1M502 441h2M635 441h2M825 441h1M965 441h1"/>
<path d="M826 442h1M964 442h1M273 443h1M513 443h2M274 444h1M525 444h2M647 444h2M932 444h1M931 445h1M1143 445h1M284 446h2M536 446h2M894 446h1M1038 446h2M1143 446h1M548 447h2M658 447h2M894 447h1M296 448h1M762 448h1M870 448h1M297 449h1M559 449h2M763 449h1M870 449h1M307 450h1M571 450h1M670 450h2M985 450h1M308 451h1M572 451h1M836 451h1M911 451h1M985 451h1M1028 451h1M319 452h1M582 452h2M681 452h1M837 452h1M911 452h1M1027 452h1M320 453h1M593 453h1M682 453h1M958 453h1M330 454h1M594 454h1M958 454h1M331 455h1M605 455h2M692 455h2M928 455h1M342 456h2M616 456h1M773 456h1M928 456h1M1016 456h2M1139 456h1M617 457h1M774 457h1M892 457h1M1139 457h1M353 458h2M628 458h2M704 458h2M892 458h1M873 459h1M364 460h2M639 460h2M715 460h2M874 460h1M651 461h2M989 461h1M1004 461h2M376 462h2M848 462h1M905 462h1M989 462h1M387 463h2M662 463h2M727 463h2M849 463h1M904 463h1M673 464h2M785 464h1M951 464h1M399 465h2M685 465h2M738 465h2M786 465h1M950 465h1M993 465h2M410 466h2M422 467h1M696 467h2M923 467h1M423 468h1M708 468h1M750 468h2M923 468h1M1133 468h1M433 469h2M709 469h1M982 469h1M1133 469h1M444 470h2M719 470h2M761 470h2M796 470h2M981 470h1M456 471h2M467 472h2M731 472h2M479 473h2M490 473h1M742 473h2M772 473h2M875 473h8M890 473h3M970 473h2M993 473h1M491 474h1M502 474h2M875 474h1M892 474h6M994 474h1M513 475h2M753 475h2M808 475h2M866 475h2M524 476h2M765 476h2M784 476h2M863 476h3M939 476h1M536 477h2M861 477h2M905 477h2M938 477h1M958 477h2M547 478h2M559 478h2M776 478h2M795 478h2M907 478h3M570 479h2M788 479h2M819 479h2M909 479h3M1126 479h1M582 480h2M593 480h2M799 480h1M855 480h1M1125 480h1M604 481h2M616 481h2M800 481h1M807 481h2M853 481h2M947 481h2M627 482h2M811 482h2M830 482h1M852 482h2M639 483h2M650 483h2M818 483h2M831 483h1M851 483h2M915 483h2M662 484h2M822 484h2M851 484h1M916 484h2M927 484h2M997 484h1M673 485h2M684 485h2M830 485h2M917 485h2M936 485h2M997 485h1M696 486h2M707 486h2M833 486h2M918 486h1M719 487h2M730 487h2M918 487h1M742 488h2M753 488h2M764 488h2M848 488h1M776 489h2M787 489h2M799 489h2M810 489h2M847 489h2M822 490h2M833 490h2M847 490h1M847 491h1M1117 491h1M847 492h1M920 492h1M1117 492h1M847 493h1M920 493h1M920 494h1M920 495h1M919 496h1M1001 496h1M919 497h1M1001 497h1M848 498h2M849 499h2M850 500h1M851 501h1M916 501h1M852 502h1M914 502h2M1108 502h1M913 503h2M1107 503h1M912 504h2M857 505h1M911 505h1M857 506h3M912 506h1M859 507h3M913 507h1M1005 507h1M862 508h2M903 508h3M1005 508h1M900 509h4M869 510h4M898 510h3M872 511h6M884 511h9M924 514h2M1097 514h1M1096 515h1M1009 518h1M1009 519h1M935 520h1M936 521h1M1086 525h1M1085 526h1M947 527h2M1013 530h1M1014 531h1M958 533h2M1075 535h1M1074 536h1M970 539h1M971 540h1M1063 544h1M981 545h1M1062 545h1M982 546h1M1022 550h8M992 551h2M1014 551h1M1037 551h3M1010 552h4M1040 552h4M1008 553h3M1043 553h1M1049 555h2M1002 556h2M1050 556h2M1000 557h2M1052 557h2M999 558h2M1053 558h2M998 559h1M1058 562h1M1058 563h1M994 564h1M1059 564h1M994 565h1M1059 565h1M993 566h2M1059 566h2M993 567h1M1060 567h1M993 568h1M1060 569h1M1060 570h1M1060 571h1M1060 572h1M994 573h1M1059 573h1M994 574h1M1059 574h1M994 575h2M995 576h1M996 577h1M996 578h1M1055 579h2M1054 580h2M1000 581h1M1053 581h2M1001 582h2M1051 582h2M1002 583h3M1004 584h3M1045 585h3M1042 586h3M1012 587h5M1040 587h2M1016 588h4M1026 588h8M1027 589h1"/>
</g>
<g stroke="#000" stroke-width="1" shape-rendering="crispEdges">
<polygon points="193.6,153.4 185.2,162.4 197.5,161.5" fill="#000" stroke="none"/>
<polygon points="583.5,150.5 584.3,162.9 592.1,153.3" fill="#000" stroke="none"/>
<polygon points="666.2,154.1 675.0,162.8 674.5,150.5" fill="#000" stroke="none"/>
<polygon points="708.5,84.0 720.8,85.6 712.9,76.1" fill="#000" stroke="none"/>
<polygon points="824.8,151.4 829.4,162.9 833.8,151.4" fill="#000" stroke="none"/>
<polygon points="760.3,229.8 765.7,240.9 769.3,229.1" fill="#000" stroke="none"/>
<polygon points="725.9,259.7 737.9,256.6 727.0,250.8" fill="#000" stroke="none"/>
<polygon points="725.8,247.2 738.1,247.2 729.1,238.8" fill="#000" stroke="none"/>
<polygon points="735.4,236.3 747.0,240.6 741.4,229.6" fill="#000" stroke="none"/>
<polygon points="786.5,228.9 782.9,240.7 793.6,234.4" fill="#000" stroke="none"/>
<polygon points="230.2,238.8 221.0,246.9 233.3,247.2" fill="#000" stroke="none"/>
<polygon points="327.0,236.7 318.9,246.0 331.2,244.6" fill="#000" stroke="none"/>
<polygon points="396.7,230.6 393.1,242.4 403.8,236.1" fill="#000" stroke="none"/>
<polygon points="455.2,231.6 463.3,240.8 463.6,228.5" fill="#000" stroke="none"/>
<polygon points="531.3,244.0 543.5,246.1 535.9,236.3" fill="#000" stroke="none"/>
<polygon points="432.9,332.3 445.2,330.8 435.2,323.6" fill="#000" stroke="none"/>
<polygon points="435.4,326.4 447.7,326.6 438.9,318.1" fill="#000" stroke="none"/>
<polygon points="441.7,318.6 453.4,322.7 447.6,311.8" fill="#000" stroke="none"/>
<polygon points="466.0,307.4 470.5,318.9 475.0,307.4" fill="#000" stroke="none"/>
<polygon points="493.9,312.6 488.0,323.5 499.7,319.5" fill="#000" stroke="none"/>
<polygon points="610.3,401.8 622.6,402.0 613.7,393.5" fill="#000" stroke="none"/>
<polygon points="746.1,305.5 745.9,317.8 754.4,309.0" fill="#000" stroke="none"/>
<polygon points="857.0,308.1 852.3,319.6 863.5,314.3" fill="#000" stroke="none"/>
<polygon points="805.2,384.7 803.8,397.0 813.1,388.9" fill="#000" stroke="none"/>
<polygon points="460.6,156.4 455.8,166.0 465.6,161.6" fill="#fff"/>
<polygon points="310.8,230.8 307.5,241.0 316.5,235.2" fill="#fff"/>
<polygon points="164.9,232.7 172.7,240.0 171.3,229.4" fill="#fff"/>
<polygon points="410.0,239.8 403.0,247.9 413.6,246.0" fill="#fff"/>
<polygon points="510.9,240.2 503.5,247.9 514.1,246.6" fill="#fff"/>
<polygon points="601.3,245.1 592.6,251.3 603.3,252.0" fill="#fff"/>
<polygon points="507.2,323.3 498.3,329.3 509.0,330.3" fill="#fff"/>
<polygon points="677.4,387.7 672.3,397.1 682.2,393.0" fill="#fff"/>
<polygon points="893.2,167.0 905.5,167.3 896.7,158.7" fill="#000" stroke="none"/>
<polygon points="928.1,484.0 918.3,491.6 930.6,492.6" fill="#000" stroke="none"/>
<polygon points="1055.1,545.3 1049.3,556.2 1061.0,552.1" fill="#000" stroke="none"/>
<polygon points="836.5,494.8 848.2,490.8 836.9,485.8" fill="#000" stroke="none"/>
<polygon points="251.4,400.9 263.8,400.3 254.3,392.3" fill="#000" stroke="none"/>
<polygon points="790.3,330.7 802.2,334.0 795.7,323.5" fill="#000" stroke="none"/>
<polygon points="836.8,491.3 848.9,489.0 838.4,482.4" fill="#000" stroke="none"/>
<polygon points="836.9,490.3 849.1,488.5 838.9,481.5" fill="#000" stroke="none"/>
<polygon points="793.3,325.1 804.6,330.0 799.7,318.7" fill="#000" stroke="none"/>
<polygon points="837.1,489.4 849.4,488.0 839.4,480.7" fill="#000" stroke="none"/>
<polygon points="860.4,247.0 872.7,247.5 864.0,238.7" fill="#000" stroke="none"/>
<polygon points="830.4,307.9 834.9,319.4 839.4,307.9" fill="#000" stroke="none"/>
<polygon points="918.1,470.7 914.1,482.4 925.0,476.5" fill="#000" stroke="none"/>
<polygon points="925.0,481.4 918.5,491.8 930.4,488.6" fill="#000" stroke="none"/>
<polygon points="917.1,229.0 917.0,241.3 925.4,232.3" fill="#000" stroke="none"/>
<polygon points="806.7,237.5 797.8,245.9 810.1,245.8" fill="#000" stroke="none"/>
<polygon points="810.6,313.2 821.4,319.2 817.5,307.5" fill="#000" stroke="none"/>
<polygon points="887.4,461.6 888.1,474.0 896.0,464.4" fill="#000" stroke="none"/>
<polygon points="771.5,390.8 782.3,396.9 778.5,385.1" fill="#000" stroke="none"/>
<polygon points="853.7,472.2 864.8,477.5 860.2,466.0" fill="#000" stroke="none"/>
<polygon points="870.8,465.1 879.1,474.2 879.2,461.9" fill="#000" stroke="none"/>
<polygon points="900.0,463.0 898.3,475.2 907.8,467.4" fill="#000" stroke="none"/>
<polygon points="1013.0,541.8 1020.7,551.5 1021.6,539.1" fill="#000" stroke="none"/>
<polygon points="991.0,555.4 1003.2,557.5 995.7,547.7" fill="#000" stroke="none"/>
</g>
<g fill="none" stroke="#000" stroke-width="1" shape-rendering="crispEdges">
<line x1="657.5" y1="7" x2="657.5" y2="47" stroke-dasharray="10 10" stroke-dashoffset="0"/>
<line x1="586" y1="7.5" x2="658" y2="7.5" stroke-dasharray="10 10" stroke-dashoffset="0"/>
<line x1="586.5" y1="7" x2="586.5" y2="47" stroke-dasharray="10 10" stroke-dashoffset="12"/>
<line x1="586" y1="46.5" x2="658" y2="46.5" stroke-dasharray="10 10" stroke-dashoffset="12"/>
<line x1="798.5" y1="85" x2="798.5" y2="125" stroke-dasharray="10 10" stroke-dashoffset="0"/>
<line x1="709" y1="85.5" x2="799" y2="85.5" stroke-dasharray="10 10" stroke-dashoffset="0"/>
<line x1="709.5" y1="85" x2="709.5" y2="125" stroke-dasharray="10 10" stroke-dashoffset="10"/>
<line x1="709" y1="124.5" x2="799" y2="124.5" stroke-dasharray="10 10" stroke-dashoffset="10"/>
<line x1="198.5" y1="162" x2="198.5" y2="202" stroke-dasharray="10 10" stroke-dashoffset="0"/>
<line x1="84" y1="162.5" x2="199" y2="162.5" stroke-dasharray="10 10" stroke-dashoffset="0"/>
<line x1="84.5" y1="162" x2="84.5" y2="202" stroke-dasharray="10 10" stroke-dashoffset="15"/>
<line x1="84" y1="201.5" x2="199" y2="201.5" stroke-dasharray="10 10" stroke-dashoffset="15"/>
<line x1="613.5" y1="162" x2="613.5" y2="202" stroke-dasharray="10 10" stroke-dashoffset="0"/>
<line x1="544" y1="162.5" x2="614" y2="162.5" stroke-dasharray="10 10" stroke-dashoffset="0"/>
<line x1="544.5" y1="162" x2="544.5" y2="202" stroke-dasharray="10 10" stroke-dashoffset="10"/>
<line x1="544" y1="201.5" x2="614" y2="201.5" stroke-dasharray="10 10" stroke-dashoffset="10"/>
<line x1="731.5" y1="162" x2="731.5" y2="202" stroke-dasharray="10 10" stroke-dashoffset="0"/>
<line x1="632" y1="162.5" x2="732" y2="162.5" stroke-dasharray="10 10" stroke-dashoffset="0"/>
<line x1="632.5" y1="162" x2="632.5" y2="202" stroke-dasharray="10 10" stroke-dashoffset="0"/>
<line x1="632" y1="201.5" x2="732" y2="201.5" stroke-dasharray="10 10" stroke-dashoffset="0"/>
<line x1="865.5" y1="162" x2="865.5" y2="202" stroke-dasharray="10 10" stroke-dashoffset="0"/>
<line x1="791" y1="162.5" x2="866" y2="162.5" stroke-dasharray="10 10" stroke-dashoffset="0"/>
<line x1="791.5" y1="162" x2="791.5" y2="202" stroke-dasharray="10 10" stroke-dashoffset="15"/>
<line x1="791" y1="201.5" x2="866" y2="201.5" stroke-dasharray="10 10" stroke-dashoffset="15"/>
<line x1="798.5" y1="240" x2="798.5" y2="280" stroke-dasharray="10 10" stroke-dashoffset="0"/>
<line x1="737" y1="240.5" x2="799" y2="240.5" stroke-dasharray="10 10" stroke-dashoffset="0"/>
<line x1="737.5" y1="240" x2="737.5" y2="280" stroke-dasharray="10 10" stroke-dashoffset="2"/>
<line x1="737" y1="279.5" x2="799" y2="279.5" stroke-dasharray="10 10" stroke-dashoffset="2"/>
<line x1="781.5" y1="317" x2="781.5" y2="357" stroke-dasharray="10 10" stroke-dashoffset="0"/>
<line x1="697" y1="317.5" x2="782" y2="317.5" stroke-dasharray="10 10" stroke-dashoffset="0"/>
<line x1="697.5" y1="317" x2="697.5" y2="357" stroke-dasharray="10 10" stroke-dashoffset="5"/>
<line x1="697" y1="356.5" x2="782" y2="356.5" stroke-dasharray="10 10" stroke-dashoffset="5"/>
</g>
<g font-family="'Liberation Serif', 'Times New Roman', serif" font-size="14" fill="#000" style="filter:grayscale(1)">
<text x="594.4" y="31.7" textLength="51.5" lengthAdjust="spacing">LangGer</text>
<text x="718.7" y="109.7" textLength="69.3" lengthAdjust="spacing">LexiconGer</text>
<text x="92.3" y="186.7" textLength="95.8" lengthAdjust="spacing">ConjunctionGer</text>
<text x="425.7" y="187.4" textLength="29.6" lengthAdjust="spacing">Lang</text>
<text x="552.6" y="186.7" textLength="48.7" lengthAdjust="spacing">VerbGer</text>
<text x="640.9" y="186.7" textLength="79.7" lengthAdjust="spacing">StructuralGer</text>
<text x="798.6" y="186.7" textLength="55.2" lengthAdjust="spacing">NounGer</text>
<text x="898.6" y="187.4" textLength="84.2" lengthAdjust="spacing">ParadigmsGer</text>
<text x="143.4" y="264.4" textLength="73.6" lengthAdjust="spacing">Conjunction</text>
<text x="267.7" y="264.4" textLength="46.5" lengthAdjust="spacing">Lexicon</text>
<text x="365.4" y="264.4" textLength="26.9" lengthAdjust="spacing">Verb</text>
<text x="441.3" y="264.4" textLength="57.7" lengthAdjust="spacing">Structural</text>
<text x="546.7" y="264.4" textLength="32.5" lengthAdjust="spacing">Noun</text>
<text x="745.7" y="264.7" textLength="43.3" lengthAdjust="spacing">CatGer</text>
<text x="871.6" y="264.7" textLength="70.2" lengthAdjust="spacing">MorphoGer</text>
<text x="459.5" y="342.4" textLength="20.5" lengthAdjust="spacing">Cat</text>
<text x="704.4" y="341.7" textLength="66.5" lengthAdjust="spacing">CommonX</text>
<text x="814.4" y="342.4" textLength="43.9" lengthAdjust="spacing">ResGer</text>
<text x="258.4" y="419.4" textLength="77.4" lengthAdjust="spacing">Coordination</text>
<text x="623.4" y="419.4" textLength="54.6" lengthAdjust="spacing">Common</text>
<text x="769.6" y="419.4" textLength="46.8" lengthAdjust="spacing">ParamX</text>
<text x="860.9" y="497.4" textLength="43.9" lengthAdjust="spacing">Prelude</text>
<text x="1006.6" y="574.5" textLength="38.5" lengthAdjust="spacing">Predef</text>
</g>
</svg>
</body></html>
